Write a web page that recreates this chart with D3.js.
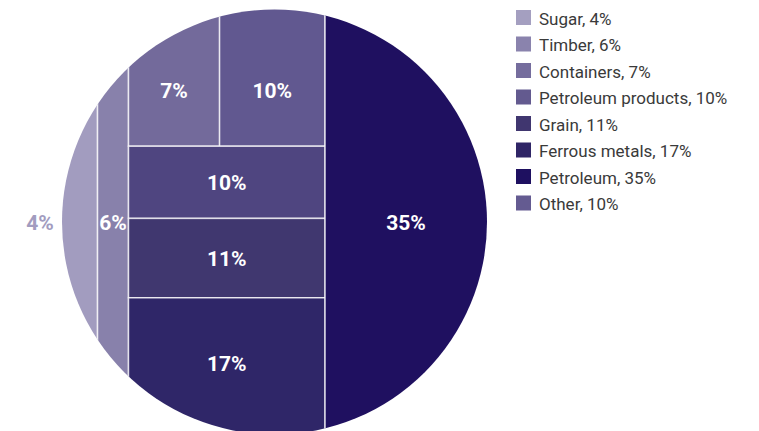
<!DOCTYPE html>
<html>
<head>
<meta charset="utf-8">
<script src="https://cdn.jsdelivr.net/npm/d3@7"></script>
<style>
  html, body { margin: 0; padding: 0; background: #ffffff; }
  svg { display: block; }
</style>
</head>
<body>
<svg id="chart" width="759" height="431"></svg>
<script>
// Cargo shares, in per cent
const categories = ["Sugar", "Timber", "Containers", "Petroleum products", "Grain", "Ferrous metals", "Petroleum", "Other"];
const shares = [4, 6, 7, 10, 11, 17, 35, 10];
const cellColors = ["#a29cbf", "#8881ab", "#736a9b", "#615890", "#40376f", "#2f2668", "#1f1060", "#4f4580"];
const swatchColors = ["#a49fc0", "#8a83ad", "#756d9d", "#635a8f", "#40366f", "#2f2566", "#1e1060", "#645b91"];
const labelSuffix = "%";

// Slice-and-dice nesting: columns left to right, then rows top to bottom, then columns again
const arrangement = ["Sugar", "Timber", [["Containers", "Petroleum products"], "Other", "Grain", "Ferrous metals"], "Petroleum"];

const W = 759, H = 431;
const disc = { cx: 274.5, cy: 222, r: 212.5 };

const shareOf = new Map(categories.map((c, i) => [c, shares[i]]));
const colorOf = d3.scaleOrdinal().domain(categories).range(cellColors);
const swatchOf = d3.scaleOrdinal().domain(categories).range(swatchColors);

function toTree(item) {
  return Array.isArray(item) ? { children: item.map(toTree) } : { name: item };
}
const root = d3.hierarchy(toTree(arrangement)).sum(d => d.name ? shareOf.get(d.name) : 0);

// Area of the disc that falls inside a rectangle (numerical integration over x)
function discArea(x0, y0, x1, y1) {
  const a = Math.max(x0, disc.cx - disc.r), b = Math.min(x1, disc.cx + disc.r);
  if (b <= a) return 0;
  const n = 600, step = (b - a) / n;
  let s = 0;
  for (let i = 0; i < n; i++) {
    const x = a + (i + 0.5) * step;
    const h = Math.sqrt(Math.max(0, disc.r * disc.r - (x - disc.cx) ** 2));
    const top = Math.max(y0, disc.cy - h), bot = Math.min(y1, disc.cy + h);
    if (bot > top) s += (bot - top) * step;
  }
  return s;
}

// Each cell's share of the disc equals its share of the cargo
function layout(node, x0, y0, x1, y1) {
  Object.assign(node, { x0, y0, x1, y1 });
  if (!node.children) return;
  const alongX = node.depth % 2 === 0;
  const total = discArea(x0, y0, x1, y1);
  let start = alongX ? x0 : y0, acc = 0;
  node.children.forEach((child, i) => {
    acc += child.value;
    let end = alongX ? x1 : y1;
    if (i < node.children.length - 1) {
      const target = total * acc / node.value;
      let lo = start, hi = end;
      for (let k = 0; k < 50; k++) {
        const mid = (lo + hi) / 2;
        const a = alongX ? discArea(x0, y0, mid, y1) : discArea(x0, y0, x1, mid);
        if (a < target) lo = mid; else hi = mid;
      }
      end = (lo + hi) / 2;
    }
    if (alongX) layout(child, start, y0, end, y1);
    else layout(child, x0, start, x1, end);
    start = end;
  });
}
const pad = 4;
layout(root, disc.cx - disc.r - pad, disc.cy - disc.r - pad, disc.cx + disc.r + pad, disc.cy + disc.r + pad);

const svg = d3.select("#chart");
svg.append("defs").append("clipPath").attr("id", "disc-clip")
  .append("circle").attr("cx", disc.cx).attr("cy", disc.cy).attr("r", disc.r);

const leaves = root.leaves();

svg.append("g").attr("clip-path", "url(#disc-clip)")
  .selectAll("rect").data(leaves).join("rect")
  .attr("x", d => d.x0).attr("y", d => d.y0)
  .attr("width", d => d.x1 - d.x0).attr("height", d => d.y1 - d.y0)
  .attr("fill", d => colorOf(d.data.name))
  .attr("stroke", "#ffffff").attr("stroke-opacity", 0.75).attr("stroke-width", 1.5);

// Label positions: centre of the visible part of each cell
leaves.forEach(d => {
  const vx0 = Math.max(d.x0, disc.cx - disc.r), vx1 = Math.min(d.x1, disc.cx + disc.r);
  d.lx = (vx0 + vx1) / 2;
  const h = Math.sqrt(Math.max(0, disc.r * disc.r - (d.lx - disc.cx) ** 2));
  const top = Math.max(d.y0, disc.cy - h), bot = Math.min(d.y1, disc.cy + h, H);
  d.ly = (top + bot) / 2;
  d.outside = d.x0 <= disc.cx - disc.r;
});
// cells side by side in a row share one baseline
leaves.forEach(d => {
  if (d.depth > 1 && d.parent.depth % 2 === 0) {
    d.ly = d3.max(d.parent.children, c => c.ly);
  }
});
leaves.forEach(d => { if (d.outside) d.lx = disc.cx - disc.r - 22; });

svg.append("g").selectAll("text").data(leaves).join("text")
  .attr("x", d => d.lx).attr("y", d => d.ly).attr("dy", "0.36em")
  .attr("text-anchor", "middle")
  .attr("font-family", "Roboto, 'Noto Sans', sans-serif")
  .attr("font-weight", 700).attr("font-size", 21)
  .attr("fill", d => d.outside ? colorOf(d.data.name) : "#ffffff")
  .text(d => d.value + labelSuffix);

// Legend
const legend = svg.append("g").attr("transform", "translate(516,10)");
const rowY = d3.scalePoint().domain(categories).range([0, 7 * 26.5]);
const item = legend.selectAll("g").data(categories).join("g")
  .attr("transform", d => `translate(0,${rowY(d)})`);
item.append("rect").attr("width", 15).attr("height", 15).attr("fill", d => swatchOf(d));
item.append("text").attr("x", 23).attr("y", 14.5)
  .attr("font-family", "Roboto, 'Noto Sans', sans-serif").attr("font-size", 17)
  .attr("fill", "#3a3a3a")
  .text(d => `${d}, ${shareOf.get(d)}%`);
</script>
</body>
</html>
